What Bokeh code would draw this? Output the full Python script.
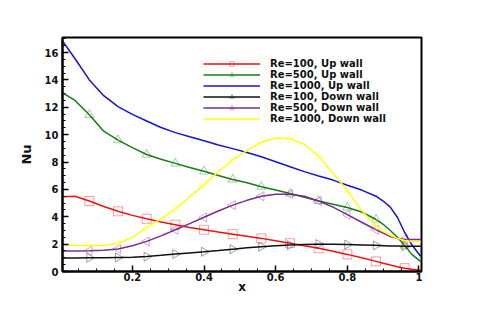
from bokeh.plotting import figure
from bokeh.models import FixedTicker, NumeralTickFormatter, Legend, LegendItem, Range1d
from bokeh.embed import file_html
from bokeh.resources import INLINE
import math

xs = [0.005, 0.04, 0.08, 0.12, 0.16, 0.20, 0.24, 0.28, 0.32, 0.36, 0.40, 0.44, 0.48,
      0.52, 0.56, 0.60, 0.64, 0.68, 0.72, 0.76, 0.80, 0.84, 0.88, 0.90, 0.92, 0.94,
      0.96, 0.98, 1.005]

re100_up = [5.47, 5.50, 5.15, 4.75, 4.40, 4.10, 3.85, 3.62, 3.42, 3.22, 3.05, 2.88, 2.73,
            2.58, 2.42, 2.25, 2.07, 1.88, 1.70, 1.48, 1.25, 1.00, 0.74, 0.60, 0.47, 0.35,
            0.24, 0.16, 0.10]
re500_up = [13.05, 12.50, 11.45, 10.25, 9.60, 9.05, 8.55, 8.20, 7.90, 7.60, 7.32, 7.02, 6.73,
            6.48, 6.20, 5.95, 5.70, 5.42, 5.15, 4.92, 4.68, 4.35, 3.80, 3.45, 3.00, 2.50,
            1.90, 1.25, 0.72]
re1000_up = [16.85, 15.55, 14.00, 12.85, 12.05, 11.48, 11.00, 10.52, 10.15, 9.85, 9.55, 9.25, 8.98,
             8.70, 8.38, 8.02, 7.66, 7.30, 6.98, 6.68, 6.30, 5.95, 5.50, 5.15, 4.70, 3.95,
             2.85, 1.95, 1.10]
re100_down = [0.98, 0.99, 1.00, 1.01, 1.03, 1.05, 1.09, 1.18, 1.28, 1.36, 1.44, 1.53, 1.63,
              1.73, 1.81, 1.88, 1.93, 1.97, 2.00, 1.99, 1.97, 1.94, 1.91, 1.89, 1.87, 1.86,
              1.85, 1.85, 1.85]
re500_down = [1.50, 1.50, 1.51, 1.55, 1.65, 1.88, 2.20, 2.60, 3.05, 3.50, 3.96, 4.42, 4.85,
              5.20, 5.50, 5.65, 5.65, 5.50, 5.15, 4.70, 4.15, 3.60, 3.05, 2.80, 2.55, 2.42,
              2.36, 2.34, 2.34]
re1000_down = [1.95, 1.92, 1.90, 1.90, 2.05, 2.50, 3.20, 3.85, 4.56, 5.45, 6.35, 7.30, 8.15,
               8.85, 9.45, 9.75, 9.70, 9.30, 8.40, 7.20, 5.90, 4.45, 3.30, 2.95, 2.65, 2.42,
               2.27, 2.20, 2.15]

marker_x = [0.08, 0.16, 0.24, 0.32, 0.40, 0.48, 0.56, 0.64, 0.72, 0.80, 0.88, 0.96]

labels = ["Re=100, Up wall", "Re=500, Up wall", "Re=1000, Up wall",
          "Re=100, Down wall", "Re=500, Down wall", "Re=1000, Down wall"]
series = [re100_up, re500_up, re1000_up, re100_down, re500_down, re1000_down]
colors = ["#ee1111", "#1a7a1a", "#1515d0", "#111111", "#7d2a8c", "#ffff10"]
markers = ["square", "triangle", None, "triangle", "triangle", "diamond"]
angles = [0, 0, 0, -math.pi / 2, math.pi / 2, 0]

x_ticks = [0.2, 0.4, 0.6, 0.8, 1.0]
x_minor = [round(0.05 * i, 2) for i in range(0, 21)]
y_ticks = [0, 2, 4, 6, 8, 10, 12, 14, 16]
y_minor = [0.5 * i for i in range(0, 35)]

p = figure(width=464, height=296, output_backend="svg", toolbar_location=None,
           x_range=Range1d(0.005, 1.007), y_range=Range1d(0, 17.1),
           min_border_left=62, min_border_right=43, min_border_top=37, min_border_bottom=23)

p.xgrid.visible = False
p.ygrid.visible = False
p.outline_line_color = "black"
p.outline_line_width = 2
p.background_fill_color = "white"
p.border_fill_color = "white"

idx = [xs.index(m) for m in marker_x]
items = []
for lab, ys, col, mk, ang in zip(labels, series, colors, markers, angles):
    r_line = p.line(xs, ys, line_color=col, line_width=1.5)
    rends = [r_line]
    if mk is not None:
        mx = [xs[i] for i in idx]
        my = [ys[i] for i in idx]
        r_m = p.scatter(mx, my, marker=mk, size=9, angle=ang, fill_color=None,
                        line_color=col, line_alpha=0.4, line_width=1)
        rends.append(r_m)
    items.append(LegendItem(label=lab, renderers=rends))

legend = Legend(items=items, location=(141, 147), glyph_width=57, glyph_height=11,
                label_height=11, spacing=0, padding=0, margin=0, label_standoff=10,
                label_text_font="DejaVu Sans", label_text_font_style="bold",
                label_text_font_size="10px", label_text_color="#111111",
                border_line_color=None, background_fill_alpha=0)
p.add_layout(legend, "center")

for ax in (p.xaxis[0], p.yaxis[0]):
    ax.axis_line_width = 2
    ax.axis_line_color = "black"
    ax.major_tick_in = 6
    ax.major_tick_out = 0
    ax.minor_tick_in = 3
    ax.minor_tick_out = 0
    ax.major_tick_line_width = 1.5
    ax.major_label_text_font = "DejaVu Sans"
    ax.major_label_text_font_style = "bold"
    ax.major_label_text_font_size = "10px"
    ax.major_label_text_color = "#111111"
    ax.axis_label_text_font = "DejaVu Sans"
    ax.axis_label_text_font_style = "bold"
    ax.axis_label_text_font_size = "13px"
    ax.axis_label_text_color = "#111111"

p.xaxis[0].ticker = FixedTicker(ticks=x_ticks, minor_ticks=x_minor)
p.xaxis[0].formatter = NumeralTickFormatter(format="0.[0]")
p.xaxis[0].axis_label = "x"
p.xaxis[0].axis_label_text_font_size = "12px"
p.xaxis[0].major_label_standoff = 1
p.xaxis[0].axis_label_standoff = -4

p.yaxis[0].ticker = FixedTicker(ticks=y_ticks, minor_ticks=y_minor)
p.yaxis[0].axis_label = "Nu"
p.yaxis[0].major_label_standoff = 4
p.yaxis[0].axis_label_standoff = 8

open("out.html", "w").write(file_html(p, INLINE))
